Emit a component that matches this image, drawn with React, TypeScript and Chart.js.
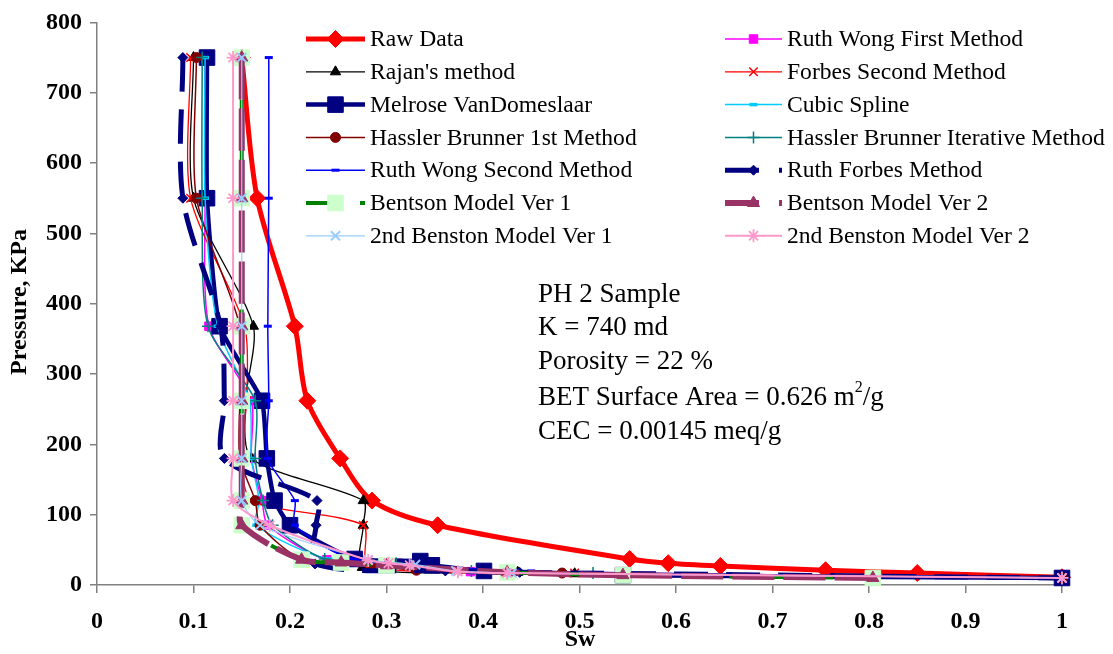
import React, { useEffect, useRef } from 'react';
import { Chart, registerables } from 'chart.js';
Chart.register(...registerables);

// ---------------- DATA ----------------
const P_UPPER = [750, 550, 368, 262, 180, 120, 85];

const rawSw = [0.150, 0.166, 0.205, 0.218, 0.252, 0.285, 0.353, 0.552, 0.592, 0.646, 0.755, 0.850, 1.0];
const rawP = [750, 550, 368, 262, 180, 120, 85, 37, 31, 27, 21, 17, 11];

const rwFirstSw = [0.112, 0.112, 0.116, 0.160, 0.160, 0.171, 0.177, 0.238, 0.312, 0.387, 1.0];
const rwFirstP = [...P_UPPER, 36, 31, 19, 10];

const rajanSw = [0.100, 0.100, 0.162, 0.154, 0.160, 0.276, 0.276, 0.275, 0.436, 0.495, 1.0];
const rajanP = [...P_UPPER, 25, 18, 16, 10];

const forbes2Sw = [0.097, 0.097, 0.153, 0.155, 0.150, 0.160, 0.276, 0.281, 0.495, 1.0];
const forbes2P = [...P_UPPER, 27, 17, 10];

const melroseSw = [0.114, 0.114, 0.127, 0.171, 0.176, 0.184, 0.200, 0.267, 0.335, 0.347, 0.401, 0.545, 1.0];
const melroseP = [...P_UPPER, 37, 34, 28, 20, 14, 10];

const cubicSw = [0.112, 0.112, 0.125, 0.158, 0.160, 0.168, 0.165, 0.240, 0.400, 1.0];
const cubicP = [...P_UPPER, 37, 20, 10];

const hb1Sw = [0.103, 0.103, 0.148, 0.148, 0.148, 0.164, 0.169, 0.212, 0.285, 0.331, 0.482, 1.0];
const hb1P = [...P_UPPER, 37, 28, 21, 17, 10];

const hbIterSw = [0.109, 0.109, 0.115, 0.164, 0.164, 0.172, 0.182, 0.236, 0.310, 0.388, 0.514, 1.0];
const hbIterP = [...P_UPPER, 37, 31, 20, 17, 10];

const rw2Sw = [0.178, 0.178, 0.177, 0.178, 0.177, 0.205, 0.205, 0.265, 0.450, 1.0];
const rw2P = [...P_UPPER, 37, 20, 10];

const ruthForbesSw = [0.089, 0.089, 0.128, 0.132, 0.132, 0.228, 0.227, 0.226, 0.361, 0.438, 1.0];
const ruthForbesP = [...P_UPPER, 30, 20, 18, 10];

const bentson1Sw = [0.150, 0.150, 0.150, 0.150, 0.150, 0.150, 0.150, 0.212, 0.253, 0.300, 0.425, 0.545, 0.804];
const bentson1P = [...P_UPPER, 36, 32, 28, 18, 14, 10];

const bentson2Sw = [0.150, 0.150, 0.150, 0.150, 0.150, 0.150, 0.150, 0.212, 0.253, 0.300, 0.425, 0.545, 0.804];
const bentson2P = [...P_UPPER, 36, 32, 28, 18, 14, 10];

const benston2v1Sw = [0.150, 0.150, 0.150, 0.150, 0.150, 0.150, 0.169, 0.281, 0.330, 0.372, 0.430, 1.0];
const benston2v1P = [...P_UPPER, 36, 29, 20, 17, 10];

const benston2v2Sw = [0.141, 0.141, 0.141, 0.141, 0.141, 0.141, 0.179, 0.281, 0.302, 0.324, 0.374, 0.425, 1.0];
const benston2v2P = [...P_UPPER, 35, 31, 28, 19, 17, 10];

const xTicks = [0, 0.1, 0.2, 0.3, 0.4, 0.5, 0.6, 0.7, 0.8, 0.9, 1];
const yTicks = [0, 100, 200, 300, 400, 500, 600, 700, 800];

const noteLines = ['PH 2 Sample', 'K = 740 md', 'Porosity = 22 %', 'BET Surface Area = 0.626 m', 'CEC = 0.00145 meq/g'];

// ---------------- STYLES ----------------
type S = {
  label: string; sw: number[]; p: number[]; color: string; lw: number; dash?: number[];
  ps: string; r: number; fill: string; stroke: string; pbw: number; tension: number;
};

const series: S[] = [
  { label: 'Raw Data', sw: rawSw, p: rawP, color: '#ff0000', lw: 5, ps: 'rectRot', r: 8.5, fill: '#ff0000', stroke: '#ff0000', pbw: 1, tension: 0.3 },
  { label: 'Ruth Wong First Method', sw: rwFirstSw, p: rwFirstP, color: '#ff00ff', lw: 1.5, ps: 'rect', r: 6, fill: '#ff00ff', stroke: '#ff00ff', pbw: 1, tension: 0.25 },
  { label: "Rajan's method", sw: rajanSw, p: rajanP, color: '#000000', lw: 1.3, ps: 'triangle', r: 6, fill: '#000000', stroke: '#000000', pbw: 1, tension: 0.25 },
  { label: 'Forbes Second Method', sw: forbes2Sw, p: forbes2P, color: '#ff0000', lw: 1.3, ps: 'crossRot', r: 6, fill: '#ff0000', stroke: '#ff0000', pbw: 1.5, tension: 0.25 },
  { label: 'Melrose VanDomeslaar', sw: melroseSw, p: melroseP, color: '#000080', lw: 4.5, ps: 'rect', r: 11, fill: '#000080', stroke: '#000080', pbw: 1, tension: 0.15 },
  { label: 'Cubic Spline', sw: cubicSw, p: cubicP, color: '#00ccff', lw: 1.5, ps: 'line', r: 4, fill: '#00ccff', stroke: '#00ccff', pbw: 3.5, tension: 0.25 },
  { label: 'Hassler Brunner 1st Method', sw: hb1Sw, p: hb1P, color: '#800000', lw: 1.5, ps: 'circle', r: 5, fill: '#800000', stroke: '#800000', pbw: 1, tension: 0.25 },
  { label: 'Hassler Brunner Iterative Method', sw: hbIterSw, p: hbIterP, color: '#008080', lw: 1.5, ps: 'cross', r: 6, fill: '#008080', stroke: '#008080', pbw: 1.5, tension: 0.25 },
  { label: 'Ruth Wong Second Method', sw: rw2Sw, p: rw2P, color: '#0000ff', lw: 1.5, ps: 'line', r: 4, fill: '#0000ff', stroke: '#0000ff', pbw: 3, tension: 0.25 },
  { label: 'Ruth Forbes Method', sw: ruthForbesSw, p: ruthForbesP, color: '#000080', lw: 5, dash: [34, 18], ps: 'rectRot', r: 5, fill: '#000080', stroke: '#000080', pbw: 1, tension: 0.3 },
  { label: 'Bentson Model Ver 1', sw: bentson1Sw, p: bentson1P, color: '#008000', lw: 4, dash: [20, 22], ps: 'rect', r: 11, fill: '#ccffcc', stroke: '#ccffcc', pbw: 1, tension: 0.3 },
  { label: 'Bentson Model Ver 2', sw: bentson2Sw, p: bentson2P, color: '#993366', lw: 6, dash: [42, 9], ps: 'triangle', r: 7, fill: '#993366', stroke: '#993366', pbw: 1, tension: 0.3 },
  { label: '2nd Benston Model Ver 1', sw: benston2v1Sw, p: benston2v1P, color: '#99ccff', lw: 1.2, ps: 'crossRot', r: 6.5, fill: '#99ccff', stroke: '#99ccff', pbw: 2, tension: 0.25 },
  { label: '2nd Benston Model Ver 2', sw: benston2v2Sw, p: benston2v2P, color: '#ff99cc', lw: 2, ps: 'star', r: 6.5, fill: '#ff99cc', stroke: '#ff99cc', pbw: 1.8, tension: 0.25 },
];

const SERIF = '"Liberation Serif", "Times New Roman", serif';

function drawMarker(ctx: CanvasRenderingContext2D, s: S, x: number, y: number) {
  const r = s.r;
  ctx.save();
  ctx.setLineDash([]);
  ctx.beginPath();
  ctx.lineWidth = s.pbw;
  ctx.fillStyle = s.fill;
  ctx.strokeStyle = s.stroke;
  const c45 = Math.SQRT1_2 * r;
  switch (s.ps) {
    case 'circle': ctx.arc(x, y, r, 0, Math.PI * 2); ctx.closePath(); break;
    case 'rect': ctx.rect(x - c45, y - c45, 2 * c45, 2 * c45); break;
    case 'rectRot': ctx.moveTo(x - r, y); ctx.lineTo(x, y - r); ctx.lineTo(x + r, y); ctx.lineTo(x, y + r); ctx.closePath(); break;
    case 'triangle': ctx.moveTo(x, y - r); ctx.lineTo(x + 0.866 * r, y + 0.5 * r); ctx.lineTo(x - 0.866 * r, y + 0.5 * r); ctx.closePath(); break;
    case 'cross': ctx.moveTo(x, y - r); ctx.lineTo(x, y + r); ctx.moveTo(x - r, y); ctx.lineTo(x + r, y); break;
    case 'crossRot': ctx.moveTo(x - c45, y - c45); ctx.lineTo(x + c45, y + c45); ctx.moveTo(x + c45, y - c45); ctx.lineTo(x - c45, y + c45); break;
    case 'star':
      ctx.moveTo(x, y - r); ctx.lineTo(x, y + r); ctx.moveTo(x - r, y); ctx.lineTo(x + r, y);
      ctx.moveTo(x - c45, y - c45); ctx.lineTo(x + c45, y + c45); ctx.moveTo(x + c45, y - c45); ctx.lineTo(x - c45, y + c45); break;
    case 'line': ctx.moveTo(x - r, y); ctx.lineTo(x + r, y); break;
  }
  ctx.fill();
  if (s.pbw > 0) ctx.stroke();
  ctx.restore();
}

const overlayPlugin = {
  id: 'overlay',
  afterDraw(chart: any) {
    const ctx: CanvasRenderingContext2D = chart.ctx;
    ctx.save();
    // legend
    series.forEach((s, i) => {
      const col = i % 2;
      const row = Math.floor(i / 2);
      const x0 = col === 0 ? 306 : 725;
      const x1 = col === 0 ? 365 : 782;
      const y = 39 + row * 32.8;
      ctx.beginPath();
      ctx.setLineDash(s.dash ? [34, 20] : []);
      ctx.lineDashOffset = 0;
      ctx.lineWidth = s.lw;
      ctx.strokeStyle = s.color;
      ctx.lineCap = 'butt';
      ctx.moveTo(x0, y);
      ctx.lineTo(x1, y);
      ctx.stroke();
      ctx.setLineDash([]);
      drawMarker(ctx, s, (x0 + x1) / 2, y);
      ctx.fillStyle = '#000';
      ctx.font = `23.6px ${SERIF}`;
      ctx.textAlign = 'left';
      ctx.textBaseline = 'middle';
      ctx.fillText(s.label, x1 + 5, y + 1);
    });
    // annotation
    ctx.fillStyle = '#000';
    ctx.textAlign = 'left';
    ctx.textBaseline = 'middle';
    const ys = [295, 328, 362, 398, 432];
    noteLines.forEach((t, i) => {
      ctx.font = `27px ${SERIF}`;
      ctx.fillText(t, 538, ys[i]);
      if (i === 3) {
        const w = ctx.measureText(t).width;
        ctx.font = `16px ${SERIF}`;
        ctx.fillText('2', 538 + w, ys[i] - 10);
        const w2 = ctx.measureText('2').width;
        ctx.font = `27px ${SERIF}`;
        ctx.fillText('/g', 538 + w + w2, ys[i]);
      }
    });
    // axis titles
    ctx.font = `bold 24px ${SERIF}`;
    ctx.textAlign = 'center';
    ctx.fillText('Sw', 580, 640);
    ctx.translate(20, 302);
    ctx.rotate(-Math.PI / 2);
    ctx.fillText('Pressure, KPa', 0, 0);
    ctx.restore();
  },
};

export default function App() {
  const ref = useRef<HTMLCanvasElement>(null);
  useEffect(() => {
    document.body.style.margin = '0';
    const canvas = ref.current!;
    const n = series.length;
    const chart = new Chart(canvas, {
      type: 'scatter',
      data: {
        datasets: series.map((s, i) => ({
          label: s.label,
          data: s.sw.map((x, k) => ({ x, y: s.p[k] })),
          showLine: true,
          borderColor: s.color,
          backgroundColor: s.fill,
          borderWidth: s.lw,
          borderDash: s.dash || [],
          tension: s.tension,
          pointStyle: s.ps as any,
          pointRadius: s.r,
          pointBackgroundColor: s.fill,
          pointBorderColor: s.stroke,
          pointBorderWidth: s.pbw,
          pointHoverRadius: s.r,
          clip: false as any,
          order: n - i,
        })),
      },
      options: {
        animation: false,
        responsive: false,
        events: [],
        layout: { padding: { left: 0, top: 19, right: 51, bottom: 0 } },
        plugins: { legend: { display: false }, tooltip: { enabled: false } },
        scales: {
          x: {
            type: 'linear', min: 0, max: 1,
            afterBuildTicks: (scale: any) => { scale.ticks = xTicks.map((v) => ({ value: v })); },
            afterFit: (scale: any) => { scale.height = 69; },
            ticks: {
              color: '#000', padding: 14, maxRotation: 0, autoSkip: false,
              font: { family: SERIF, size: 24, weight: 'bold' },
              callback: (v: any) => String(Number(Number(v).toFixed(1))),
            },
            grid: { drawOnChartArea: false, drawTicks: true, tickLength: 8, color: '#808080', lineWidth: 1.5 },
            border: { display: true, color: '#808080', width: 1.5 },
          },
          y: {
            type: 'linear', min: 0, max: 800,
            afterBuildTicks: (scale: any) => { scale.ticks = yTicks.map((v) => ({ value: v })); },
            afterFit: (scale: any) => { scale.width = 97; },
            ticks: {
              color: '#000', padding: 8, autoSkip: false,
              font: { family: SERIF, size: 24, weight: 'bold' },
            },
            grid: { drawOnChartArea: false, drawTicks: true, tickLength: 7, color: '#808080', lineWidth: 1.5 },
            border: { display: true, color: '#808080', width: 1.5 },
          },
        },
      },
      plugins: [overlayPlugin],
    });
    return () => chart.destroy();
  }, []);
  return (
    <div style={{ width: 1113, height: 654 }}>
      <canvas ref={ref} width={1113} height={654} />
    </div>
  );
}
